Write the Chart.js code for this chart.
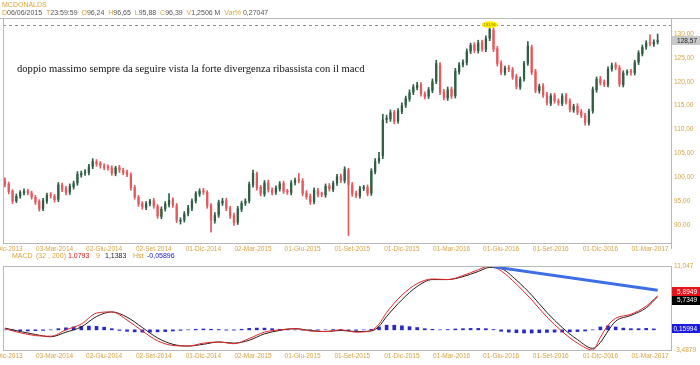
<!DOCTYPE html>
<html><head><meta charset="utf-8">
<script src="https://cdn.jsdelivr.net/npm/chart.js"></script>
<style>
html,body{margin:0;padding:0;background:#fff}
body{width:700px;height:365px;overflow:hidden;position:relative;font-family:"Liberation Sans",Arial,sans-serif}
canvas{position:absolute;left:0}
#c1{top:0}
#c2{top:255px}
.t{position:absolute;white-space:nowrap;font-size:7px;line-height:8px}
.g{color:#d9a33a}
.k{color:#555}
#note{position:absolute;left:17px;top:63px;font-family:"Liberation Serif","Times New Roman",serif;font-size:10.6px;color:#111;white-space:nowrap}
</style></head><body>
<canvas id="c1" width="700" height="255"></canvas>
<canvas id="c2" width="700" height="110"></canvas>
<div class="t g" style="left:2px;top:1px">MCDONALDS</div>
<div class="t" style="left:2px;top:9px"><span class="g">D</span><span class="k">06/06/2015</span>&nbsp;&nbsp;<span class="g">T</span><span class="k">23:59:59</span>&nbsp;&nbsp;<span class="g">O</span><span class="k">96,24</span>&nbsp;&nbsp;<span class="g">H</span><span class="k">96,65</span>&nbsp;&nbsp;<span class="g">L</span><span class="k">95,88</span>&nbsp;&nbsp;<span class="g">C</span><span class="k">96,39</span>&nbsp;&nbsp;<span class="g">V</span><span class="k">1,2506 M</span>&nbsp;&nbsp;<span class="g">Var%</span>&nbsp;<span class="k">0,27047</span></div>
<div id="note">doppio massimo sempre da seguire vista la forte divergenza ribassista con il macd</div>
<div class="t g" style="left:12px;top:252px">MACD</div>
<div class="t g" style="left:36px;top:252px">(32 , 200)</div>
<div class="t" style="left:68px;top:252px;color:#d42020">1,0793</div>
<div class="t g" style="left:96px;top:252px">9</div>
<div class="t" style="left:105px;top:252px;color:#222">1,1383</div>
<div class="t g" style="left:133px;top:252px">Hst</div>
<div class="t" style="left:147px;top:252px;color:#2020c0">-0,05896</div>
<script>
// ---- weekly candles (week 0 = 02-Dic-2013) ----
const opens = [99.3,98.6,97.1,95.1,96.1,96.7,97.1,96.7,95.8,94.9,
93.5,95.0,96.3,96.0,95.4,98.3,97.6,96.9,98.0,98.8,
100.5,100.9,101.0,102.3,103.2,102.9,102.3,102.1,101.9,100.8,
102.0,101.4,101.1,100.5,97.9,95.8,94.5,93.7,94.5,95.1,
93.9,91.8,93.4,94.3,95.3,94.1,90.8,91.1,92.4,93.5,
95.1,96.5,97.2,96.8,94.1,90.9,92.1,94.6,95.1,93.4,
92.0,90.6,93.3,94.6,95.1,98.4,100.7,97.9,96.5,98.9,
97.3,96.9,97.6,98.7,97.0,96.8,98.9,99.5,99.2,96.7,
96.0,94.9,97.2,96.5,96.3,98.2,97.5,98.8,100.2,99.3,
101.5,98.4,96.6,96.1,97.7,97.9,96.7,101.2,103.4,104.5,
112.1,112.2,113.6,111.8,113.8,115.1,116.4,117.8,118.8,119.4,
117.4,117.0,118.2,120.1,123.5,117.9,116.6,118.4,117.1,122.1,
123.6,124.0,126.4,127.7,126.5,128.2,126.8,129.1,130.8,126.9,
123.9,121.9,122.9,122.5,121.1,118.9,120.6,123.9,127.2,122.1,
118.1,119.1,117.3,115.5,117.1,115.9,115.5,117.1,115.9,114.1,
114.9,113.7,112.9,111.4,113.9,118.3,120.6,119.9,119.4,122.7,
123.5,122.9,119.4,121.9,122.1,121.9,124.1,125.9,127.3,128.2,
127.9,128.4];
const closes = [98.5,97.0,95.0,96.0,96.8,97.0,96.8,95.9,94.8,93.4,
95.1,96.2,96.1,95.3,98.4,97.5,96.8,98.1,98.7,100.6,
100.8,101.1,102.2,103.3,102.8,102.4,102.1,102.0,100.9,101.9,
101.5,101.0,100.6,97.8,95.9,94.4,93.8,94.4,95.0,94.0,
91.9,93.3,94.4,95.2,94.2,91.0,91.0,92.3,93.6,95.0,
96.6,97.1,96.9,94.0,91.0,92.0,94.7,95.0,93.5,91.9,
90.5,93.4,94.5,95.0,98.5,100.8,97.8,96.6,98.8,97.4,
96.8,97.7,98.6,97.1,96.9,98.8,99.3,99.3,96.6,95.9,
94.8,97.3,96.4,96.4,98.1,97.6,98.7,100.1,99.4,101.6,
98.5,96.5,96.2,97.6,97.8,96.6,101.3,103.3,104.0,112.0,
112.3,113.5,111.7,113.9,115.0,116.5,117.7,118.9,119.3,117.5,
116.9,118.3,120.0,123.8,117.8,116.7,118.3,117.0,122.2,123.5,
124.1,126.3,127.6,126.6,128.1,126.9,129.0,131.0,126.8,123.8,
122.0,122.8,122.6,121.0,119.0,120.5,123.8,127.5,122.0,118.2,
119.0,117.2,115.6,117.0,116.0,115.6,117.0,115.8,114.2,114.8,
113.6,113.0,111.5,113.8,118.4,120.5,119.8,119.5,122.6,123.4,
123.0,119.5,121.8,122.0,122.0,124.0,126.0,127.2,128.1,128.0,
128.3,128.57];
const highs = [99.9,99.0,97.4,96.5,97.2,97.6,97.5,97.1,96.2,95.3,
95.6,96.7,96.8,96.4,98.9,98.8,98.1,98.6,99.2,101.2,
101.3,101.6,102.7,103.9,103.7,103.3,102.8,102.6,102.4,102.3,
102.5,101.9,101.5,100.9,98.3,96.2,94.9,94.9,95.4,95.6,
94.3,93.8,94.9,96.6,95.7,94.5,91.5,92.8,94.1,95.5,
97.0,97.6,97.7,97.2,94.5,92.6,95.2,95.6,95.6,93.9,
92.5,93.9,95.0,95.5,99.0,101.5,101.1,98.3,99.3,99.4,
97.8,98.2,99.1,99.2,97.5,99.3,99.8,100.8,99.7,97.2,
96.5,97.8,97.7,96.9,98.6,98.7,99.2,100.6,100.7,102.2,
101.9,98.9,97.1,98.1,98.3,98.4,101.8,103.9,105.2,113.2,
113.0,114.1,114.0,114.4,115.6,117.0,118.3,119.4,119.9,119.8,
117.9,118.8,120.6,124.5,124.0,118.4,118.9,118.9,122.8,124.0,
124.6,126.9,128.1,128.2,128.7,128.7,129.6,131.96,131.3,127.4,
124.4,123.3,123.4,123.0,121.6,121.0,124.3,128.4,127.7,122.6,
119.5,119.6,117.8,117.5,117.6,116.4,117.5,117.6,116.4,115.3,
115.4,114.2,113.4,114.3,118.9,121.0,121.1,120.4,123.1,123.9,
124.0,123.4,122.3,122.5,122.6,124.5,126.5,127.7,128.6,129.8,
128.8,130.0];
const lows = [98.0,96.5,94.5,94.7,95.6,96.3,96.3,95.4,94.3,92.9,
93.0,94.5,95.6,94.8,94.9,97.0,96.3,96.4,97.5,98.3,
100.0,100.4,100.5,101.8,102.3,101.9,101.6,101.5,100.4,100.3,
101.0,100.5,100.1,97.3,95.4,93.9,93.3,93.2,94.0,93.5,
91.4,91.3,92.9,93.8,93.7,90.5,90.2,90.6,91.9,93.0,
94.6,96.0,96.4,93.5,88.5,90.4,91.6,94.1,93.0,91.4,
89.9,90.1,92.8,94.1,94.6,97.9,97.3,96.1,96.0,96.9,
96.3,96.4,97.1,96.6,96.4,96.3,98.4,98.8,96.1,95.4,
94.3,94.4,95.9,95.9,95.8,97.1,97.0,98.3,98.9,98.8,
87.8,96.0,95.7,95.6,97.2,96.1,96.2,100.7,102.9,103.9,
111.4,111.7,111.2,111.3,113.3,114.6,115.9,117.3,118.3,117.0,
116.4,116.5,117.7,119.6,117.3,116.2,116.1,116.5,116.6,121.6,
123.1,123.5,125.9,126.1,126.0,126.4,126.3,128.6,126.3,123.3,
121.5,121.4,122.1,120.5,118.5,118.4,120.1,123.4,121.5,117.7,
117.6,116.7,115.1,115.0,115.5,115.1,115.0,115.3,113.7,113.6,
113.1,112.5,110.9,110.9,113.4,117.8,119.3,119.0,118.9,122.2,
122.5,119.0,118.9,121.4,121.4,121.4,123.6,125.4,126.8,127.5,
127.4,127.9];

// ---- MACD (32,200) signal 9 ----
const macdWeeks = [0,4,8,12,16,20,24,28,32,36,40,44,48,52,56,60,64,68,72,76,80,84,88,92,96,98,100,104,108,112,116,120,124,127,130,134,138,142,146,150,154,156,158,160,164,168,171];
const macdLine = [0.2,-0.5,-1.0,-1.1,0.0,1.0,2.9,3.1,1.7,-0.2,-1.9,-2.7,-2.8,-2.3,-2.1,-2.4,-1.5,-0.4,0.0,0.2,-0.2,-0.3,0.0,-0.4,-0.1,1.0,3.0,6.0,8.0,8.8,8.7,9.4,10.4,11.047,10.2,7.9,5.2,2.2,-0.3,-2.3,-3.4879,-1.3,0.8,2.0,2.7,4.1,5.8949];
const signalLine = [0.3,-0.3,-0.8,-1.2,-0.4,0.5,2.3,3.1,2.2,0.4,-1.4,-2.5,-2.8,-2.5,-2.1,-2.3,-1.8,-0.7,-0.1,0.2,-0.1,-0.3,-0.1,-0.3,-0.2,0.6,2.3,5.2,7.5,8.7,8.7,9.2,10.1,10.8,10.6,8.6,6.0,3.0,0.4,-1.7,-3.2,-2.2,-0.2,1.5,2.5,3.8,5.7349];
// histogram, one value every 2 weeks
const histValues = [0.0,-0.1,-0.15,-0.2,-0.15,-0.1,0.0,0.2,0.35,0.5,
0.6,0.65,0.6,0.45,0.2,-0.1,-0.25,-0.35,-0.4,-0.4,
-0.35,-0.3,-0.2,-0.1,0.0,0.1,0.15,0.1,0.05,-0.05,
-0.05,0.1,0.25,0.3,0.3,0.2,0.1,0.05,0.0,-0.05,
-0.1,-0.05,0.0,0.05,0.05,-0.1,-0.1,0.0,0.1,0.5,
0.8,0.8,0.7,0.55,0.4,0.2,0.1,0.0,0.05,0.15,
0.2,0.25,0.25,0.2,0.05,-0.25,-0.4,-0.5,-0.55,-0.55,
-0.5,-0.45,-0.4,-0.4,-0.35,-0.3,-0.2,0.0,0.5,0.7,
0.5,0.3,0.2,0.2,0.25,0.15994];
const trendWeeks = [128, 171];
const trendValues = [10.9, 6.85];

// ---- axes ----
const tickWeeks = [0,13,26,39,52,65,78,91,104,117,130,143,156,169];
const tickLabels = ["02-Dic-2013","03-Mar-2014","02-Giu-2014","02-Set-2014","01-Dic-2014","02-Mar-2015","01-Giu-2015","01-Set-2015","01-Dic-2015","01-Mar-2016","01-Giu-2016","01-Set-2016","01-Dic-2016","01-Mar-2017"];
const priceTicks = [90,95,100,105,110,115,120,125,130];
const macdTicks = [11.047, -3.4879];
const macdTickLabels = ["11,047", "-3,4879"];

const GOLD = '#d6a445';
const UP = '#2f5e44', DOWN = '#e35a5e';
const tickFont = {family:'Liberation Sans', size:6.5};
const candleColor = (ctx) => closes[ctx.dataIndex] >= opens[ctx.dataIndex] ? UP : DOWN;

function xScale(showLabels){
  return {
    type:'linear', min:-0.5, max:174.5, offset:false,
    grid:{display:false, drawTicks:false}, border:{display:false},
    ticks:{color:GOLD, font:tickFont, autoSkip:false, maxRotation:0, minRotation:0, padding:2,
      callback:(v)=>{const k=tickWeeks.indexOf(v); return k>=0?tickLabels[k]:'';}},
    afterBuildTicks:(s)=>{ s.ticks = tickWeeks.map(v=>({value:v})); },
    afterFit:(s)=>{ s.height = showLabels; s.paddingLeft = 0; s.paddingRight = 0; }
  };
}
function fmt(v, d){ return v.toFixed(d).replace('.', ','); }

function valueBox(ctx, a, yc, text, bg, fg){
  ctx.fillStyle = bg;
  ctx.fillRect(a.right + 1, Math.round(yc - 4.5), 700 - a.right - 1, 9);
  ctx.fillStyle = fg;
  ctx.font = '6.5px "Liberation Sans"';
  ctx.textBaseline = 'middle';
  ctx.textAlign = 'right';
  ctx.fillText(text, 697, yc);
}

const mainDecor = {
  id:'mainDecor',
  beforeDatasetsDraw(chart){
    const {ctx, chartArea:a, scales:{y}} = chart;
    const maxH = Math.max(...highs);
    const yy = Math.round(y.getPixelForValue(maxH)) + 0.5;
    ctx.save();
    ctx.strokeStyle = '#8c8c8c'; ctx.lineWidth = 1; ctx.setLineDash([3,3]);
    ctx.beginPath(); ctx.moveTo(a.left, yy); ctx.lineTo(a.right, yy); ctx.stroke();
    ctx.restore();
  },
  afterDraw(chart){
    const {ctx, chartArea:a, scales:{x,y}} = chart;
    ctx.save();
    ctx.strokeStyle = '#b8b8b8'; ctx.lineWidth = 1;
    ctx.beginPath();
    ctx.moveTo(0, a.top + 0.5); ctx.lineTo(700, a.top + 0.5);
    ctx.moveTo(a.left + 0.5, a.top); ctx.lineTo(a.left + 0.5, a.bottom);
    ctx.moveTo(a.right + 0.5, a.top); ctx.lineTo(a.right + 0.5, a.bottom + 6);
    ctx.moveTo(a.left, a.bottom + 0.5); ctx.lineTo(a.right, a.bottom + 0.5);
    ctx.stroke();
    // peak marker
    const maxH = Math.max(...highs);
    const idx = highs.indexOf(maxH);
    const px = x.getPixelForValue(idx), py = y.getPixelForValue(maxH);
    ctx.fillStyle = '#ffec00';
    ctx.beginPath(); ctx.ellipse(px, py, 8, 3.5, 0, 0, Math.PI*2); ctx.fill();
    ctx.fillStyle = '#8a7000'; ctx.font = '4px "Liberation Sans"'; ctx.textAlign='center'; ctx.textBaseline='middle';
    ctx.fillText(fmt(maxH,2), px, py);
    // last price box
    const last = closes[closes.length-1];
    valueBox(ctx, a, y.getPixelForValue(last), fmt(last,2), '#c9c9c9', '#222');
    ctx.restore();
  }
};

new Chart(document.getElementById('c1'), {
  type:'bar',
  data:{datasets:[
    {data: highs.map((h,i)=>({x:i, y:[lows[i], h]})), backgroundColor:candleColor, barThickness:1, grouped:false, order:2},
    {data: opens.map((o,i)=>({x:i, y:[o, closes[i]]})), backgroundColor:candleColor, barThickness:1.6, minBarLength:1, grouped:false, order:1}
  ]},
  options:{
    responsive:false, animation:false, events:[],
    layout:{padding:{left:3, top:18, right:0, bottom:0}},
    plugins:{legend:{display:false}, tooltip:{enabled:false}},
    scales:{
      x: xScale(12),
      y:{position:'right', min:86.23, max:133.35,
        grid:{display:false, drawTicks:false}, border:{display:false},
        ticks:{color:GOLD, font:tickFont, padding:3, callback:(v)=>fmt(v,2)},
        afterBuildTicks:(s)=>{ s.ticks = priceTicks.map(v=>({value:v})); },
        afterFit:(s)=>{ s.width = 29; }}
    }
  },
  plugins:[mainDecor]
});

const macdDecor = {
  id:'macdDecor',
  afterDraw(chart){
    const {ctx, chartArea:a, scales:{y}} = chart;
    ctx.save();
    ctx.strokeStyle = '#b8b8b8'; ctx.lineWidth = 1;
    ctx.strokeRect(a.left + 0.5, a.top + 0.5, a.width, a.height);
    const m = macdLine[macdLine.length-1], s = signalLine[signalLine.length-1], h = histValues[histValues.length-1];
    valueBox(ctx, a, y.getPixelForValue(m) - 4, fmt(m,4), '#e8141c', '#fff');
    valueBox(ctx, a, y.getPixelForValue(s) + 4, fmt(s,4), '#000', '#fff');
    valueBox(ctx, a, y.getPixelForValue(h), fmt(h,5), '#1a1ae0', '#fff');
    ctx.restore();
  }
};

new Chart(document.getElementById('c2'), {
  type:'bar',
  data:{datasets:[
    {type:'bar', data: histValues.map((v,i)=>({x:i*2, y:v})), backgroundColor:'#2828c4', barThickness:3, grouped:false, order:3},
    {type:'line', data: macdWeeks.map((w,i)=>({x:w, y:signalLine[i]})), borderColor:'#2a1a1a', borderWidth:1, pointRadius:0, cubicInterpolationMode:'monotone', order:2},
    {type:'line', data: macdWeeks.map((w,i)=>({x:w, y:macdLine[i]})), borderColor:'#e02828', borderWidth:1, pointRadius:0, cubicInterpolationMode:'monotone', order:1},
    {type:'line', data: trendWeeks.map((w,i)=>({x:w, y:trendValues[i]})), borderColor:'#3c6ee6', borderWidth:3, pointRadius:0, order:0}
  ]},
  options:{
    responsive:false, animation:false, events:[],
    layout:{padding:{left:3, top:11, right:0, bottom:0}},
    plugins:{legend:{display:false}, tooltip:{enabled:false}},
    scales:{
      x: xScale(15),
      y:{position:'right', min:-3.4879, max:11.047,
        grid:{display:false, drawTicks:false}, border:{display:false},
        ticks:{color:GOLD, font:tickFont, padding:3, callback:(v)=>{const k=macdTicks.indexOf(v); return k>=0?macdTickLabels[k]:'';}},
        afterBuildTicks:(s)=>{ s.ticks = macdTicks.map(v=>({value:v})); },
        afterFit:(s)=>{ s.width = 29; }}
    }
  },
  plugins:[macdDecor]
});
</script>
</body></html>
